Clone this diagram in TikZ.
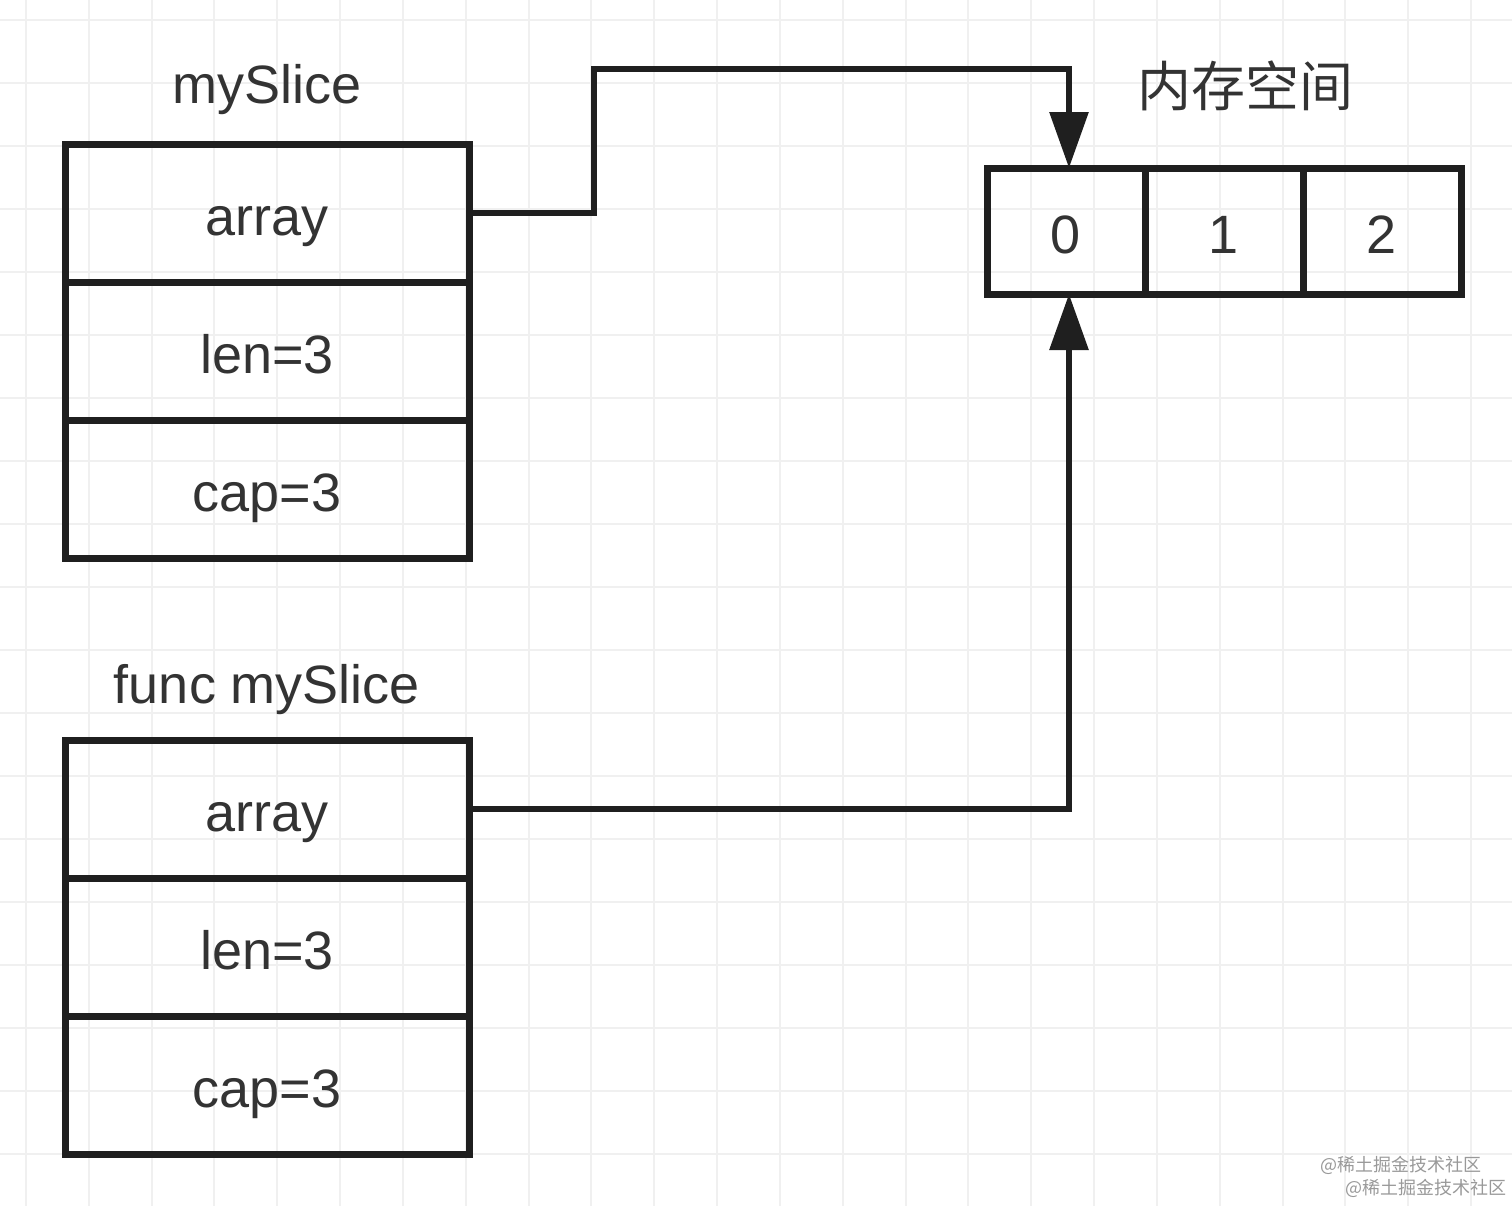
\documentclass[tikz,border=0pt]{standalone}
\usepackage{fontspec}
\setmainfont{Liberation Sans}
\newfontfamily\cjk{Noto Sans CJK SC}
\usetikzlibrary{positioning,arrows.meta}

\begin{document}
\begin{tikzpicture}[x=0.5pt,y=-0.5pt,
  gridline/.style={draw=black!6,line width=1pt},
  cell/.style={draw=black!88,line width=3.5pt,outer sep=0pt,
    minimum width=202pt,minimum height=69pt,text height=22pt,text depth=0pt,
    text=black!80,font=\fontsize{27}{32}\selectfont},
  mcell/.style={cell,minimum width=79pt,minimum height=63pt},
  title/.style={text=black!80,font=\fontsize{27}{32}\selectfont},
  ptr/.style={draw=black!88,line width=3pt,-{Triangle[length=28pt,width=19pt]}},
  wmark/.style={text=black!40,font=\cjk\fontsize{9}{10}\selectfont,anchor=east,inner sep=0pt}]
\useasboundingbox (0,0) rectangle (1512,1206);
\foreach \i in {0,...,23}
  \draw[gridline] ({26+62.83*\i},0) -- ({26+62.83*\i},1206);
\foreach \j in {0,...,18}
  \draw[gridline] (0,{20+63*\j}) -- (1512,{20+63*\j});

\node[title,anchor=base] (t1) at (267,103) {mySlice};
\node[cell] (arr1) at (267,213) {array};
\node[cell,below=0pt of arr1] (len1) {len=3};
\node[cell,below=0pt of len1] (cap1) {cap=3};

\node[title,anchor=base] (t2) at (267,703) {func mySlice};
\node[cell] (arr2) at (267,809) {array};
\node[cell,below=0pt of arr2] (len2) {len=3};
\node[cell,below=0pt of len2] (cap2) {cap=3};

\node[title,font=\cjk\fontsize{27}{32}\selectfont] (t3) at (1245,86) {内存空间};
\node[mcell] (m0) at (1066,231) {0};
\node[mcell,right=0pt of m0] (m1) {1};
\node[mcell,right=0pt of m1] (m2) {2};

\coordinate (bend1) at (594,213);
\coordinate (top1) at (1069,69);
\coordinate (bend2) at (1069,809);
\draw[ptr] (arr1.east) -- (bend1) |- (top1) -- (top1 |- m0.north);
\draw[ptr] (arr2.east) -- (bend2) -- (bend2 |- m0.south);

\node[wmark] (w1) at (1482,1165) {@稀土掘金技术社区};
\node[wmark] (w2) at (1507,1188) {@稀土掘金技术社区};
\end{tikzpicture}
\end{document}
